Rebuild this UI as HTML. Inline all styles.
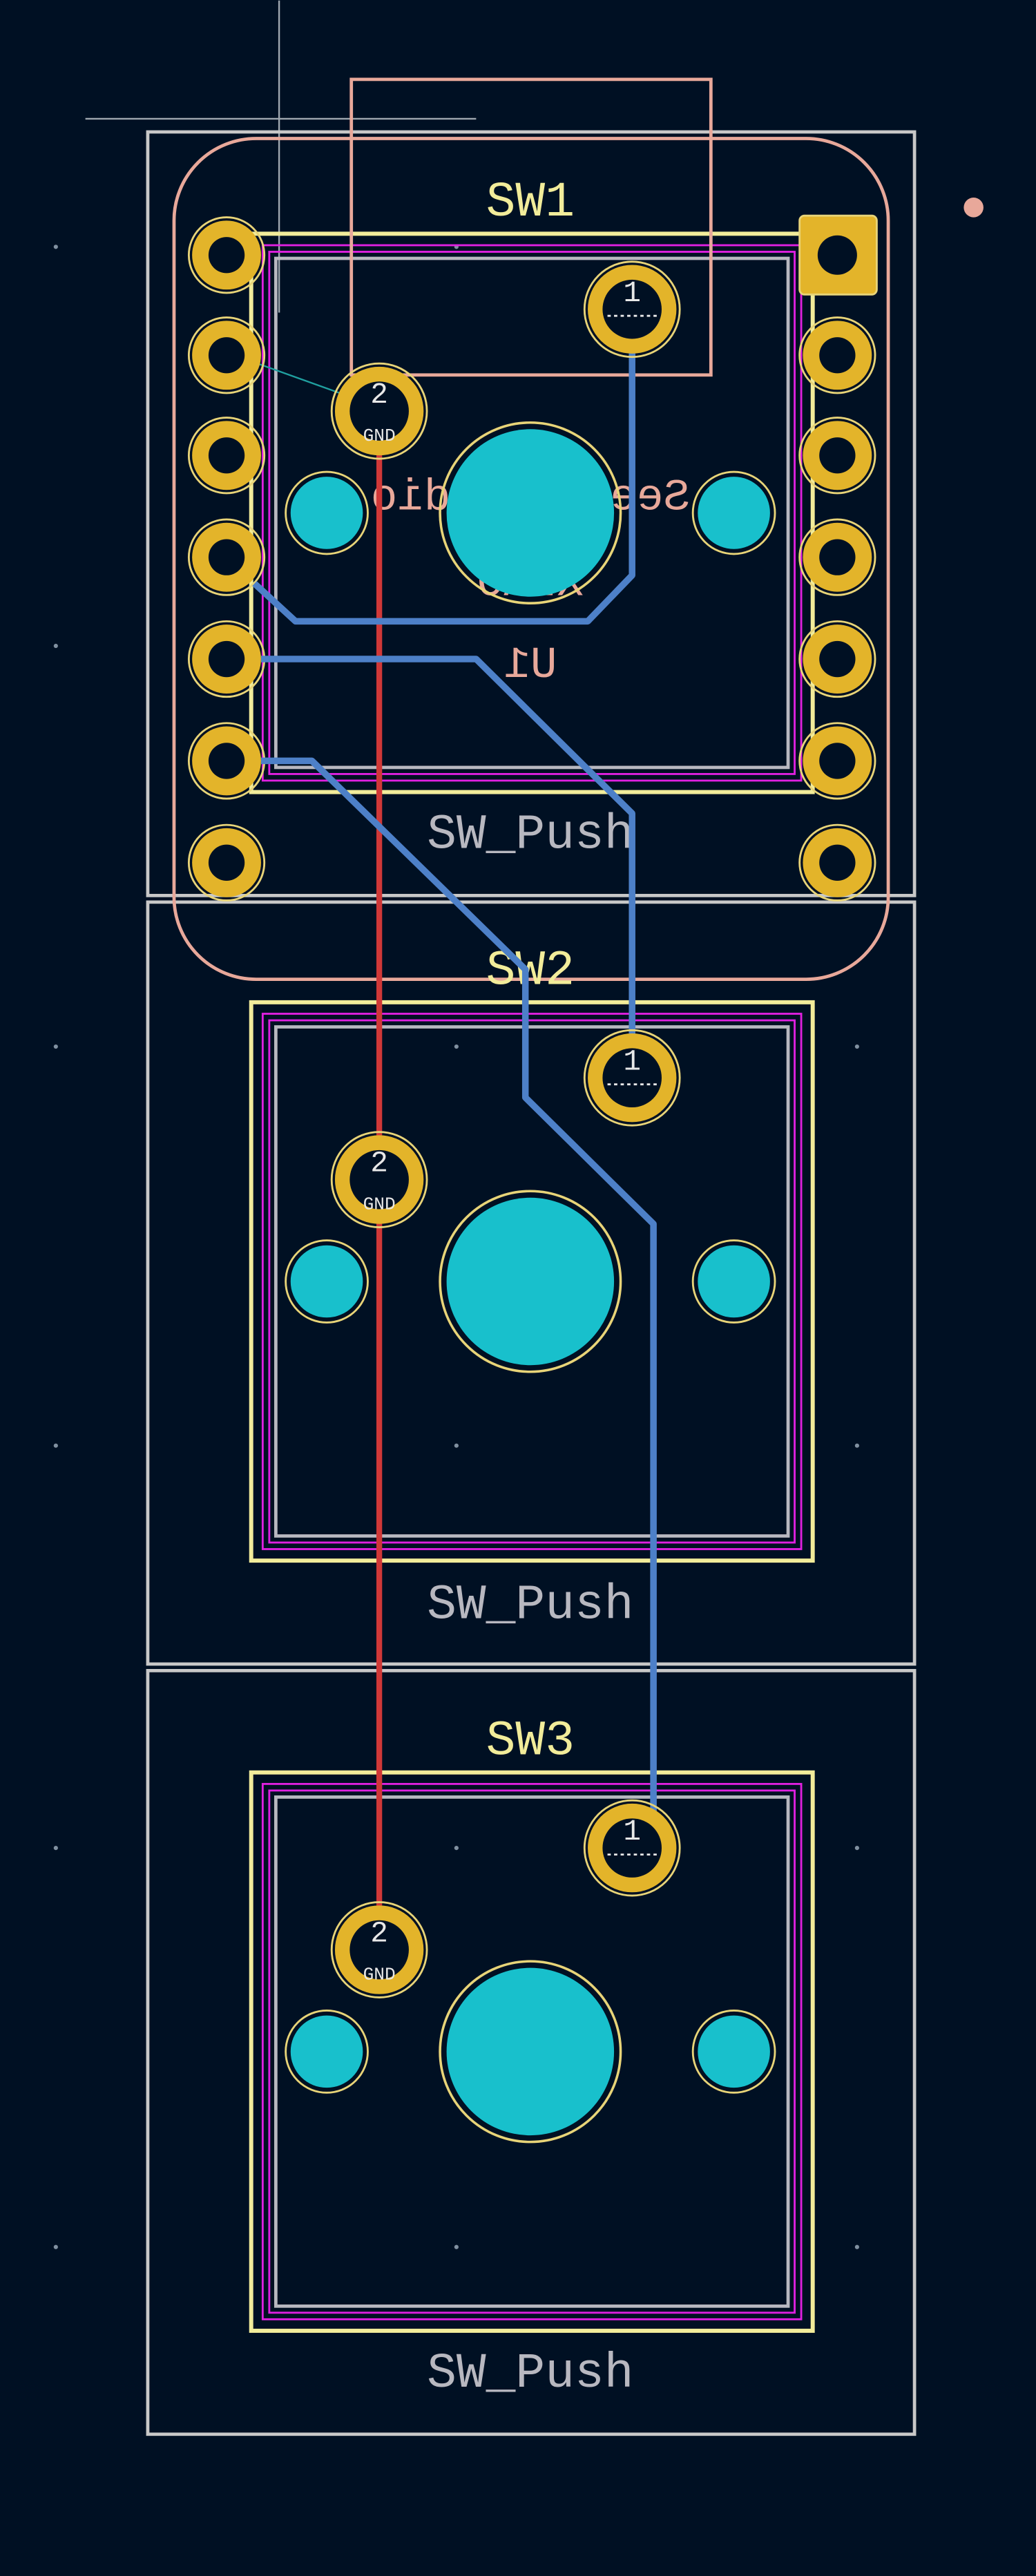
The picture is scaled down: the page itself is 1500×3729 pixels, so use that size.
<!DOCTYPE html>
<html><head><meta charset="utf-8"><style>
html,body{margin:0;padding:0;background:#001023;}
svg{display:block;}
text{font-family:"Liberation Mono","DejaVu Sans Mono",monospace;}
</style></head><body>
<svg width="1500" height="3729" viewBox="0 0 631 1568" xmlns="http://www.w3.org/2000/svg">
<defs>
<g id="pad">
  <circle r="29" fill="none" stroke="#e8d478" stroke-width="1.2"/>
  <circle r="27" fill="#e3b42a"/>
  <circle r="18" fill="#001023"/>
</g>
<g id="npth">
  <circle r="25" fill="none" stroke="#e8d478" stroke-width="1.2"/>
  <circle r="22" fill="#18c0cc"/>
</g>
<g id="sw">
  <rect x="153" y="142" width="342" height="340" fill="none" stroke="#f2ec9a" stroke-width="2.5"/>
  <rect x="160" y="149" width="328" height="326" fill="none" stroke="#e020e0" stroke-width="1.2"/>
  <rect x="164" y="153" width="320" height="318" fill="none" stroke="#e020e0" stroke-width="1.2"/>
  <rect x="168" y="157" width="312" height="310" fill="none" stroke="#b8b8c0" stroke-width="2"/>
  <circle cx="323" cy="312" r="55" fill="none" stroke="#e8d478" stroke-width="1.5"/>
  <circle cx="323" cy="312" r="51" fill="#18c0cc"/>
  <use href="#npth" x="199" y="312"/>
  <use href="#npth" x="447" y="312"/>
</g>
<g id="swpads">
  <use href="#pad" x="385" y="188"/>
  <use href="#pad" x="231" y="250"/>
  <text x="385" y="183" font-size="18" fill="#e8e8e8" text-anchor="middle">1</text>
  <line x1="370" y1="192" x2="400" y2="192" stroke="#e8e8e8" stroke-width="1.2" stroke-dasharray="2 2"/>
  <text x="231" y="245" font-size="18" fill="#e8e8e8" text-anchor="middle">2</text>
  <text x="231" y="268" font-size="11" fill="#e8e8e8" text-anchor="middle">GND</text>
</g>
<g id="pin">
  <circle r="23" fill="none" stroke="#e8d478" stroke-width="1.2"/>
  <circle r="21" fill="#e3b42a"/>
  <circle r="11" fill="#001023"/>
</g>
</defs>

<g fill="#8090a0">
  <circle cx="34" cy="150" r="1.3"/><circle cx="34" cy="393" r="1.3"/><circle cx="34" cy="637" r="1.3"/><circle cx="34" cy="880" r="1.3"/><circle cx="34" cy="1125" r="1.3"/><circle cx="34" cy="1368" r="1.3"/>
  <circle cx="522" cy="637" r="1.3"/><circle cx="522" cy="880" r="1.3"/><circle cx="522" cy="1125" r="1.3"/><circle cx="522" cy="1368" r="1.3"/>
  <circle cx="278" cy="150" r="1.3"/><circle cx="278" cy="637" r="1.3"/><circle cx="278" cy="880" r="1.3"/><circle cx="278" cy="1125" r="1.3"/><circle cx="278" cy="1368" r="1.3"/>
</g>

<line x1="170" y1="0" x2="170" y2="190" stroke="#a0a8b0" stroke-width="1"/>
<line x1="52" y1="72" x2="290" y2="72" stroke="#a0a8b0" stroke-width="1"/>

<g fill="none" stroke="#c8c8c8" stroke-width="2">
  <rect x="90" y="80" width="467" height="465"/>
  <rect x="90" y="549" width="467" height="464"/>
  <rect x="90" y="1017" width="467" height="465"/>
</g>

<g fill="#e8a89a" font-size="27" text-anchor="middle">
  <text transform="translate(323,310) scale(-1,1)">Seeed Studio</text>
  <text transform="translate(323,362) scale(-1,1)">XIAO</text>
  <text transform="translate(323,412) scale(-1,1)">U1</text>
</g>

<use href="#sw"/>
<use href="#sw" y="468"/>
<use href="#sw" y="937"/>

<rect x="214" y="48" width="219" height="180" fill="none" stroke="#e8a89a" stroke-width="2"/>
<rect x="106" y="84" width="435" height="512" rx="50" fill="none" stroke="#e8a89a" stroke-width="2"/>
<circle cx="593" cy="126" r="6" fill="#e8a89a"/>
<line x1="140" y1="215" x2="232" y2="248" stroke="#20a0a0" stroke-width="1"/>

<g fill="#f2ec9a" font-size="30" text-anchor="middle">
  <text x="323" y="131">SW1</text>
  <text x="323" y="599">SW2</text>
  <text x="323" y="1068">SW3</text>
</g>
<g fill="#b8b8c0" font-size="30" text-anchor="middle">
  <text x="323" y="516">SW_Push</text>
  <text x="323" y="985">SW_Push</text>
  <text x="323" y="1453">SW_Push</text>
</g>

<g>
  <use href="#pin" x="138" y="155"/><use href="#pin" x="138" y="216"/><use href="#pin" x="138" y="277"/><use href="#pin" x="138" y="339"/><use href="#pin" x="138" y="401"/><use href="#pin" x="138" y="463"/><use href="#pin" x="138" y="525"/>
  <use href="#pin" x="510" y="216"/><use href="#pin" x="510" y="277"/><use href="#pin" x="510" y="339"/><use href="#pin" x="510" y="401"/><use href="#pin" x="510" y="463"/><use href="#pin" x="510" y="525"/>
  <rect x="487" y="131" width="47" height="48" rx="3" fill="#e3b42a" stroke="#e8d478" stroke-width="1.2"/>
  <circle cx="510" cy="155" r="12" fill="#001023"/>
</g>

<line x1="231" y1="250" x2="231" y2="1187" stroke="#d03838" stroke-width="3.5"/>
<g fill="none" stroke="#4d80c8" stroke-width="4" stroke-linejoin="round">
  <polyline points="385,188 385,350 358,378 180,378 155,355"/>
  <polyline points="159,401 290,401 385,495 385,657"/>
  <polyline points="159,463 190,463 320,590 320,668 398,745 398,1125"/>
</g>

<use href="#swpads"/>
<use href="#swpads" y="468"/>
<use href="#swpads" y="937"/>
</svg>
</body></html>
